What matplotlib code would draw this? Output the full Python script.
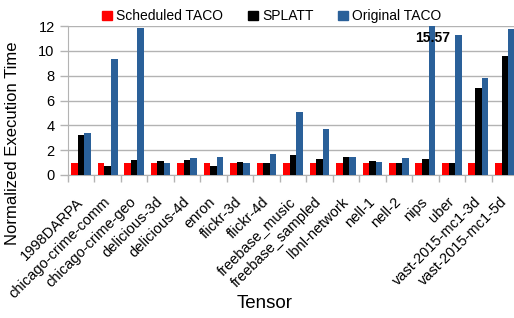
import matplotlib
matplotlib.use('Agg')
import matplotlib.pyplot as plt
import matplotlib.transforms as mtransforms
import numpy as np
from matplotlib.patches import Patch

plt.rcParams['font.family'] = ['Liberation Sans', 'DejaVu Sans']

tensors = ['1998DARPA', 'chicago-crime-comm', 'chicago-crime-geo', 'delicious-3d',
           'delicious-4d', 'enron', 'flickr-3d', 'flickr-4d', 'freebase_music',
           'freebase_sampled', 'lbnl-network', 'nell-1', 'nell-2', 'nips', 'uber',
           'vast-2015-mc1-3d', 'vast-2015-mc1-5d']
scheduled_taco = [1.0] * 17
splatt = [3.22, 0.75, 1.2, 1.13, 1.2, 0.75, 1.05, 0.97, 1.6, 1.29, 1.45, 1.13,
          0.97, 1.29, 1.0, 7.0, 9.57]
original_taco = [3.38, 9.33, 11.82, 0.97, 1.37, 1.45, 0.97, 1.69, 5.07, 3.7, 1.45,
                 1.05, 1.37, 15.57, 11.26, 7.8, 11.74]

fig = plt.figure(figsize=(5.14, 3.18), dpi=100)
ax = fig.add_axes([0.132, 0.4497, 0.876, 0.4683])

x = np.arange(len(tensors))
w = 0.25
ax.bar(x - w, scheduled_taco, w, color='#ff0000', label='Scheduled TACO', zorder=3)
ax.bar(x, splatt, w, color='#000000', label='SPLATT', zorder=3)
ax.bar(x + w, original_taco, w, color='#2a6099', label='Original TACO', zorder=3)

ax.set_ylim(0, 12)
ax.set_xlim(-0.5, len(tensors) - 0.5)
ax.set_yticks(range(0, 13, 2))
ax.yaxis.grid(True, color='#b3b3b3', linewidth=1, zorder=0)
ax.tick_params(axis='y', labelsize=10.5, length=6, color='#b3b3b3', width=1)

# value label for the clipped nips bar
i = tensors.index('nips')
ax.text(i + w + 0.68, 11.05, '%.2f' % original_taco[i], ha='right', va='center',
        fontsize=10, fontweight='bold', zorder=4)

ax.set_xticks(x)
ax.set_xticklabels(tensors, rotation=45, ha='right', va='top', rotation_mode='anchor',
                   fontsize=10.5)
ax.set_xticks(np.arange(-0.5, len(tensors), 1), minor=True)
ax.tick_params(axis='x', which='major', length=0, pad=10)
ax.tick_params(axis='x', which='minor', length=5, color='#b3b3b3', width=1)
shift = mtransforms.ScaledTranslation(-5 / 100, -6 / 100, fig.dpi_scale_trans)
for lab in ax.get_xticklabels():
    lab.set_transform(lab.get_transform() + shift)

for s in ['top', 'right']:
    ax.spines[s].set_visible(False)
for s in ['left', 'bottom']:
    ax.spines[s].set_color('#b3b3b3')

ax.set_ylabel('Normalized Execution Time', fontsize=12)
ax.yaxis.set_label_coords(-0.124, 0.215)
ax.set_xlabel('Tensor', fontsize=13.5)
ax.xaxis.set_label_coords((265 - 68) / 450, -(304 - 175) / 149)
ax.xaxis.label.set_va('center')
ax.yaxis.label.set_va('center')

handles = [Patch(color='#ff0000'), Patch(color='#000000'), Patch(color='#2a6099')]
fig.legend(handles, ['Scheduled TACO', 'SPLATT', 'Original TACO'], loc='upper center',
           bbox_to_anchor=(0.529, 1.01), ncol=3, frameon=False, fontsize=10,
           handlelength=0.7, handleheight=0.7, handletextpad=0.3, columnspacing=1.8)

fig.savefig('out.png', dpi=100)
